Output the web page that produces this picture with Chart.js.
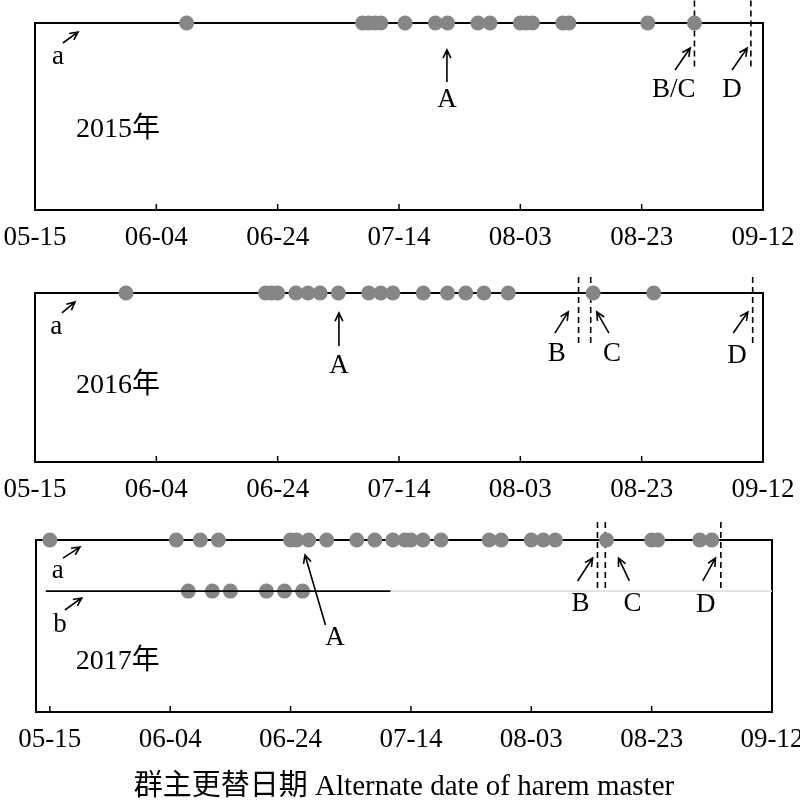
<!DOCTYPE html>
<html>
<head>
<meta charset="utf-8">
<script src="https://cdn.jsdelivr.net/npm/chart.js@4/dist/chart.umd.min.js"></script>
<style>
  body { margin: 0; background: #fff; }
  #wrap { position: relative; width: 800px; height: 800px; }
  canvas { position: absolute; left: 0; }
</style>
</head>
<body>
<div id="wrap">
  <canvas id="p2015" width="800" height="260" style="top:0px"></canvas>
  <canvas id="p2016" width="800" height="250" style="top:262px"></canvas>
  <canvas id="p2017" width="800" height="288" style="top:512px"></canvas>
</div>
<script>
// days counted from 05-15
const tickDays = [0, 20, 40, 60, 80, 100, 120];
const tickLabels = ['05-15', '06-04', '06-24', '07-14', '08-03', '08-23', '09-12'];

// harem master change dates, group a (and b in 2017)
const days2015a = [25, 54, 55, 56, 57, 61, 66, 68, 73, 75, 80, 81, 82, 87, 88, 101, 108.7];
const days2016a = [15, 38, 39, 40, 43, 45, 47, 50, 55, 57, 59, 64, 68, 71, 74, 78, 92, 102];
const days2017a = [0, 21, 25, 28, 40, 41, 43, 46, 51, 54, 57, 59, 60, 62, 65, 73, 75, 80, 82, 84, 92.5, 100, 101, 108, 110];
const days2017b = [23, 27, 30, 36, 39, 42];

// event marks (dashed lines)
const events2015 = [108.7, 118];
const events2016 = [89.6, 91.6, 118.3];
const events2017 = [91, 92.3, 111.5];

// text notes and arrows, in axis units (x = day, y = 0..100 inside the frame)
const notes2015 = [
  { t: 'a', x: 3.8, y: 82 }, { t: 'A', x: 67.9, y: 59 }, { t: 'B/C', x: 105.3, y: 64 },
  { t: 'D', x: 114.9, y: 64 }, { t: '2015年', x: 13.7, y: 43 }
];
const arrows2015 = [
  [4.6, 89.3, 7.1, 95.2], [67.9, 68.4, 67.9, 85.6], [105.5, 74.9, 108, 86.6], [114.9, 74.9, 117.4, 86.6]
];
const notes2016 = [
  { t: 'a', x: 3.5, y: 80 }, { t: 'A', x: 50.1, y: 57 }, { t: 'B', x: 86, y: 64 },
  { t: 'C', x: 95.1, y: 64 }, { t: 'D', x: 115.7, y: 63 }, { t: '2016年', x: 13.7, y: 45 }
];
const arrows2016 = [
  [4.45, 88.2, 6.6, 94.7], [50.1, 68.6, 50.1, 88.2], [85.7, 76.3, 87.9, 88.8],
  [94.6, 76.3, 92.6, 88.8], [115.1, 76.3, 117.5, 88.8]
];
const notes2017 = [
  { t: 'a', x: 1.3, y: 82 }, { t: 'b', x: 1.7, y: 50.6 }, { t: 'A', x: 47.4, y: 43 },
  { t: 'B', x: 88.2, y: 63 }, { t: 'C', x: 96.8, y: 63 }, { t: 'D', x: 109, y: 62 },
  { t: '2017年', x: 11.3, y: 29 }
];
const arrows2017 = [
  [2.2, 89.5, 5.0, 95.9], [2.5, 59.3, 5.3, 66.3], [45.8, 50.6, 42.4, 91.3],
  [87.7, 76.2, 90.2, 89.5], [96.3, 76.2, 94.5, 89.5], [108.5, 76.2, 110.6, 89.5]
];
const rowB2017 = 70.3;
const rowBEnd2017 = 56.6;

const serif = '"Liberation Serif", "Noto Sans CJK SC", serif';
const dotColor = '#868686';

function drawArrow(ctx, x1, y1, x2, y2) {
  const ang = Math.atan2(y2 - y1, x2 - x1);
  const h = 9;
  ctx.beginPath();
  ctx.moveTo(x1, y1);
  ctx.lineTo(x2, y2);
  ctx.moveTo(x2 - h * Math.cos(ang - 0.45), y2 - h * Math.sin(ang - 0.45));
  ctx.lineTo(x2, y2);
  ctx.lineTo(x2 - h * Math.cos(ang + 0.45), y2 - h * Math.sin(ang + 0.45));
  ctx.stroke();
}

const framePlugin = {
  id: 'frame',
  beforeDatasetsDraw(chart) {
    const { ctx, chartArea: a } = chart;
    const xs = chart.scales.x;
    ctx.save();
    ctx.strokeStyle = '#000';
    ctx.lineWidth = 2;
    ctx.strokeRect(a.left, a.top, a.right - a.left, a.bottom - a.top);
    // inward ticks
    ctx.lineWidth = 1.5;
    tickDays.forEach(d => {
      const px = xs.getPixelForValue(d);
      ctx.beginPath();
      ctx.moveTo(px, a.bottom);
      ctx.lineTo(px, a.bottom - 6);
      ctx.stroke();
    });
    ctx.restore();
  },
  afterDatasetsDraw(chart, args, opts) {
    const { ctx } = chart;
    const xs = chart.scales.x, ys = chart.scales.y;
    ctx.save();
    ctx.strokeStyle = '#000';
    ctx.fillStyle = '#000';
    ctx.lineWidth = 1.6;
    (opts.arrows || []).forEach(r => {
      drawArrow(ctx, xs.getPixelForValue(r[0]), ys.getPixelForValue(r[1]),
        xs.getPixelForValue(r[2]), ys.getPixelForValue(r[3]));
    });
    ctx.textAlign = 'center';
    ctx.textBaseline = 'middle';
    (opts.notes || []).forEach(n => {
      ctx.font = (n.t.length > 3 ? '28px ' : '27px ') + serif;
      ctx.fillText(n.t, xs.getPixelForValue(n.x), ys.getPixelForValue(n.y));
    });
    ctx.restore();
  }
};

function dots(days, y) {
  return {
    type: 'scatter',
    data: days.map(d => ({ x: d, y: y })),
    backgroundColor: dotColor,
    borderWidth: 0,
    pointRadius: 7.5,
    clip: false
  };
}

function dashed(x, top, bottom) {
  return {
    type: 'line',
    data: [{ x: x, y: top }, { x: x, y: bottom }],
    borderColor: '#000',
    borderWidth: 1.6,
    borderDash: [6, 4],
    pointRadius: 0,
    clip: false
  };
}

function makePanel(id, cfg) {
  const datasets = [];
  (cfg.lines || []).forEach(l => datasets.push({
    type: 'line',
    data: [{ x: l[0], y: l[2] }, { x: l[1], y: l[2] }],
    borderColor: l[3], borderWidth: 1.8, pointRadius: 0, clip: false
  }));
  datasets.push(dots(cfg.a, 100));
  if (cfg.b) datasets.push(dots(cfg.b, rowB2017));
  cfg.events.forEach(e => datasets.push(dashed(e, cfg.dashTop, cfg.dashBottom)));

  return new Chart(document.getElementById(id), {
    type: 'scatter',
    data: { datasets },
    options: {
      responsive: false,
      animation: false,
      layout: { padding: cfg.padding },
      plugins: {
        legend: { display: false },
        tooltip: { enabled: false },
        frame: { notes: cfg.notes, arrows: cfg.arrows }
      },
      scales: {
        x: {
          type: 'linear',
          min: cfg.min,
          max: 120,
          afterBuildTicks: s => { s.ticks = tickDays.map(v => ({ value: v })); },
          afterFit: s => {
            s.height = cfg.axisHeight;
            s.paddingLeft = 0;
            s.paddingRight = 0;
          },
          grid: { display: false, drawTicks: false },
          border: { display: false },
          ticks: {
            autoSkip: false,
            maxRotation: 0,
            padding: 12,
            color: '#000',
            font: { family: serif, size: 27 },
            callback: v => tickLabels[tickDays.indexOf(v)]
          },
          title: cfg.title ? {
            display: true,
            text: cfg.title,
            color: '#000',
            font: { family: serif, size: 29, lineHeight: 1 },
            padding: { top: 0, bottom: -2 }
          } : { display: false }
        },
        y: { display: false, min: 0, max: 100 }
      }
    },
    plugins: [framePlugin]
  });
}

makePanel('p2015', {
  a: days2015a, events: events2015, notes: notes2015, arrows: arrows2015,
  min: 0, padding: { left: 35, right: 37, top: 23, bottom: 0 }, axisHeight: 50,
  dashTop: 112, dashBottom: 76
});
makePanel('p2016', {
  a: days2016a, events: events2016, notes: notes2016, arrows: arrows2016,
  min: 0, padding: { left: 35, right: 37, top: 31, bottom: 0 }, axisHeight: 50,
  dashTop: 109.5, dashBottom: 69
});
makePanel('p2017', {
  a: days2017a, b: days2017b, events: events2017, notes: notes2017, arrows: arrows2017,
  lines: [[-0.67, rowBEnd2017, rowB2017, '#000'], [rowBEnd2017, 120, rowB2017, '#e2e2e2']],
  min: -2.3, padding: { left: 36, right: 28, top: 28, bottom: 0 }, axisHeight: 88,
  dashTop: 110.5, dashBottom: 69.8,
  title: '群主更替日期 Alternate date of harem master'
});
</script>
</body>
</html>
